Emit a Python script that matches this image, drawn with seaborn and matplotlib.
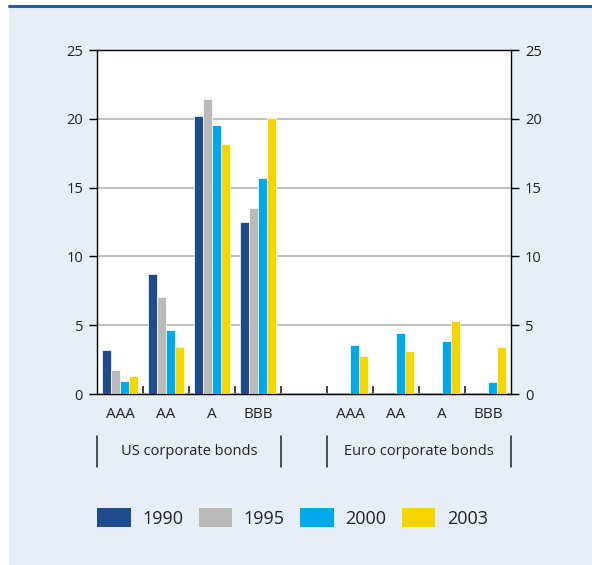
import matplotlib
matplotlib.use("Agg")
import matplotlib.pyplot as plt
from matplotlib.patches import Patch, Rectangle
from matplotlib.lines import Line2D
import matplotlib.transforms as mtransforms
import numpy as np
import pandas as pd
import seaborn as sns

# Rating slots (an empty slot separates the two markets)
slots = ["US AAA", "US AA", "US A", "US BBB", "gap",
         "EU AAA", "EU AA", "EU A", "EU BBB"]
slot_labels = ["AAA", "AA", "A", "BBB", "", "AAA", "AA", "A", "BBB"]
years = ["1990", "1995", "2000", "2003"]

# Share of outstanding amounts (%) by rating
v1990 = [3.2, 8.7, 20.2, 12.5, np.nan, np.nan, np.nan, np.nan, np.nan]
v1995 = [1.75, 7.05, 21.45, 13.5, np.nan, np.nan, np.nan, np.nan, np.nan]
v2000 = [0.95, 4.65, 19.55, 15.7, np.nan, 3.55, 4.45, 3.85, 0.85]
v2003 = [1.3, 3.4, 18.2, 20.05, np.nan, 2.75, 3.1, 5.3, 3.4]

groups = ["US corporate bonds", "Euro corporate bonds"]

colors = ["#1f4a8c", "#bababa", "#00aaea", "#f5d600"]
panel_bg = "#e8eef6"
text_col = "#222222"

df = pd.DataFrame({
    "slot": slots * 4,
    "year": [y for y in years for _ in slots],
    "value": v1990 + v1995 + v2000 + v2003,
})

sns.set_theme(style="white")
plt.rcParams["font.family"] = ["Open Sans", "DejaVu Sans"]

fig = plt.figure(figsize=(5.92, 5.65), dpi=100, facecolor="white")
W, H = 592, 565

# light panel with a dark rule along its top
fig.patches.append(Rectangle((9 / W, 0), 1 - 9 / W, 1 - 6 / H,
                             transform=fig.transFigure, facecolor=panel_bg,
                             edgecolor="none", zorder=-2))
fig.lines.append(Line2D([9 / W, 1], [1 - 6 / H, 1 - 6 / H],
                        transform=fig.transFigure, color="#2b5aa0", lw=2.2,
                        zorder=-1))

ax = fig.add_axes([97 / W, 1 - 394 / H, 414 / W, 344 / H])
ax.set_facecolor("white")

sns.barplot(data=df, x="slot", y="value", hue="year", order=slots,
            hue_order=years, palette=colors, width=0.8, saturation=1,
            edgecolor="white", linewidth=0.5, legend=False, ax=ax, zorder=3)

ax.set_xlim(-0.5, len(slots) - 0.5)
ax.set_ylim(0, 25)
ax.set_yticks([0, 5, 10, 15, 20, 25])
ax.set_xlabel("")
ax.set_ylabel("")

for s in ax.spines.values():
    s.set_visible(True)
    s.set_color("black")
    s.set_linewidth(1.0)

ax.yaxis.grid(True, color="#bbbbbb", linewidth=1.3, zorder=1)
ax.set_axisbelow(True)
ax.tick_params(axis="y", which="major", left=True, right=True,
               labelleft=True, labelright=True, direction="out",
               length=6, width=1, color="black", pad=4,
               labelsize=10.5, labelcolor=text_col)

# category labels at slot centres, boundary ticks pointing inward
ax.set_xticks(range(len(slots)))
ax.set_xticklabels(slot_labels)
ax.tick_params(axis="x", which="major", length=0, pad=9,
               labelsize=11, labelcolor=text_col)
ax.set_xticks([i + 0.5 for i in range(len(slots) - 1)], minor=True)
ax.tick_params(axis="x", which="minor", bottom=True, direction="in",
               length=6, width=1.3, color="#333333")

# market brackets under the rating labels
trans = mtransforms.blended_transform_factory(ax.transData, ax.transAxes)
spans = [(-0.5, 3.5), (4.5, 8.5)]
for (x0, x1), name in zip(spans, groups):
    for xv in (x0, x1):
        ax.add_line(Line2D([xv, xv], [-0.122, -0.212], transform=trans,
                           color=text_col, lw=1.1, clip_on=False))
    ax.text((x0 + x1) / 2, -0.166, name, transform=trans, ha="center",
            va="center", fontsize=10.5, color=text_col)

handles = [Patch(facecolor=c, edgecolor="none") for c in colors]
fig.legend(handles, years, loc="center", bbox_to_anchor=(0.494, 1 - 518 / H),
           ncol=4, frameon=False, fontsize=13, handlelength=1.85,
           handleheight=1.2, handletextpad=0.65, columnspacing=0.85,
           labelcolor=text_col)

fig.savefig("out.png", dpi=100, facecolor=fig.get_facecolor())
